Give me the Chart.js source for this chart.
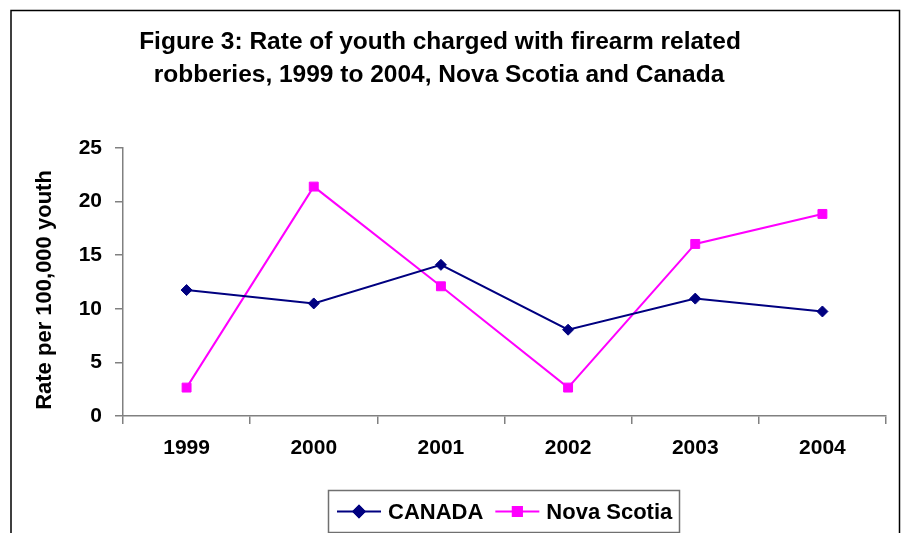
<!DOCTYPE html>
<html>
<head>
<meta charset="utf-8">
<script src="https://cdn.jsdelivr.net/npm/chart.js@4.4.1/dist/chart.umd.min.js"></script>
<style>
  html, body { margin: 0; padding: 0; background: #ffffff; }
  #wrap { width: 905px; height: 533px; position: relative; }
</style>
</head>
<body>
<div id="wrap"><canvas id="chart" width="905" height="533"></canvas></div>
<script>
// Rate of youth charged with firearm related robberies (per 100,000 youth)
const years = ['1999', '2000', '2001', '2002', '2003', '2004'];
const canada = [11.75, 10.5, 14.1, 8.05, 10.95, 9.75];
const novaScotia = [2.65, 21.4, 12.1, 2.65, 16.05, 18.85];
const yTicks = [0, 5, 10, 15, 20, 25];

const titleLines = [
  'Figure 3: Rate of youth charged with firearm related',
  'robberies, 1999 to 2004, Nova Scotia and Canada'
];
const yAxisTitle = 'Rate per 100,000 youth';

const FONT = '"Liberation Sans", Arial, Helvetica, sans-serif';
const AXIS_GREY = '#808080';

// Outer frame, heading, rotated y-axis title and boxed legend
const decorations = {
  id: 'decorations',
  afterDraw(chart) {
    const ctx = chart.ctx;
    ctx.save();

    // frame
    ctx.strokeStyle = '#000000';
    ctx.lineWidth = 1.5;
    ctx.beginPath();
    ctx.moveTo(11, 560);
    ctx.lineTo(11, 10.5);
    ctx.lineTo(899.5, 10.5);
    ctx.lineTo(899.5, 560);
    ctx.stroke();

    // heading
    ctx.fillStyle = '#000000';
    ctx.textAlign = 'center';
    ctx.textBaseline = 'alphabetic';
    ctx.font = 'bold 24.5px ' + FONT;
    ctx.fillText(titleLines[0], 440, 49);
    ctx.fillText(titleLines[1], 439, 82);

    // y-axis title
    ctx.save();
    ctx.translate(45, 290);
    ctx.rotate(-Math.PI / 2);
    ctx.font = 'bold 22px ' + FONT;
    ctx.textAlign = 'center';
    ctx.textBaseline = 'middle';
    ctx.fillText(yAxisTitle, 0, 0);
    ctx.restore();

    // legend
    const box = { x: 328.5, y: 490.5, w: 351, h: 42 };
    ctx.strokeStyle = '#707070';
    ctx.lineWidth = 1.5;
    ctx.strokeRect(box.x, box.y, box.w, box.h);

    const cy = box.y + box.h / 2;
    ctx.font = 'bold 22px ' + FONT;
    ctx.textAlign = 'left';
    ctx.textBaseline = 'middle';
    let x = 337;
    chart.data.datasets.forEach((ds) => {
      const lineLen = 44;
      ctx.strokeStyle = ds.borderColor;
      ctx.lineWidth = ds.borderWidth;
      ctx.beginPath();
      ctx.moveTo(x, cy);
      ctx.lineTo(x + lineLen, cy);
      ctx.stroke();
      Chart.helpers.drawPoint(ctx, {
        pointStyle: ds.pointStyle,
        radius: ds.pointRadius,
        borderWidth: ds.pointBorderWidth,
        rotation: 0
      }, x + lineLen / 2, cy);
      ctx.fillStyle = ds.pointBackgroundColor;
      ctx.strokeStyle = ds.pointBorderColor;
      ctx.fill();
      ctx.stroke();
      ctx.fillStyle = '#000000';
      ctx.fillText(ds.label, x + lineLen + 7, cy + 1);
      x += lineLen + 7 + ctx.measureText(ds.label).width + 12;
    });

    ctx.restore();
  }
};

new Chart(document.getElementById('chart'), {
  type: 'line',
  data: {
    labels: years,
    datasets: [
      {
        label: 'CANADA',
        data: canada,
        borderColor: '#000080',
        backgroundColor: '#000080',
        borderWidth: 2,
        pointStyle: 'rectRot',
        pointRadius: 5.5,
        pointBorderWidth: 1,
        pointBackgroundColor: '#000080',
        pointBorderColor: '#000080',
        tension: 0
      },
      {
        label: 'Nova Scotia',
        data: novaScotia,
        borderColor: '#FF00FF',
        backgroundColor: '#FF00FF',
        borderWidth: 2,
        pointStyle: 'rect',
        pointRadius: 6.3,
        pointBorderWidth: 1,
        pointBackgroundColor: '#FF00FF',
        pointBorderColor: '#FF00FF',
        tension: 0
      }
    ]
  },
  options: {
    responsive: false,
    animation: false,
    devicePixelRatio: 1,
    layout: { padding: { left: 0, right: 19, top: 148, bottom: 0 } },
    plugins: {
      legend: { display: false },
      title: { display: false },
      tooltip: { enabled: false }
    },
    scales: {
      x: {
        type: 'category',
        offset: true,
        grid: {
          offset: true,
          drawOnChartArea: false,
          drawTicks: true,
          tickLength: 8,
          color: AXIS_GREY,
          lineWidth: 1.5
        },
        border: { display: true, color: AXIS_GREY, width: 1.5 },
        ticks: {
          color: '#000000',
          padding: 12,
          font: { family: FONT, size: 21, weight: 'bold' },
          maxRotation: 0,
          autoSkip: false
        },
        afterFit(scale) { scale.height = 117; }
      },
      y: {
        min: 0,
        max: 25,
        afterBuildTicks(scale) {
          scale.ticks = yTicks.map(v => ({ value: v }));
        },
        grid: {
          drawOnChartArea: false,
          drawTicks: true,
          tickLength: 8,
          color: AXIS_GREY,
          lineWidth: 1.5
        },
        border: { display: true, color: AXIS_GREY, width: 1.5 },
        ticks: {
          color: '#000000',
          padding: 13,
          font: { family: FONT, size: 21, weight: 'bold' }
        },
        afterFit(scale) { scale.width = 123; }
      }
    }
  },
  plugins: [decorations]
});
</script>
</body>
</html>
